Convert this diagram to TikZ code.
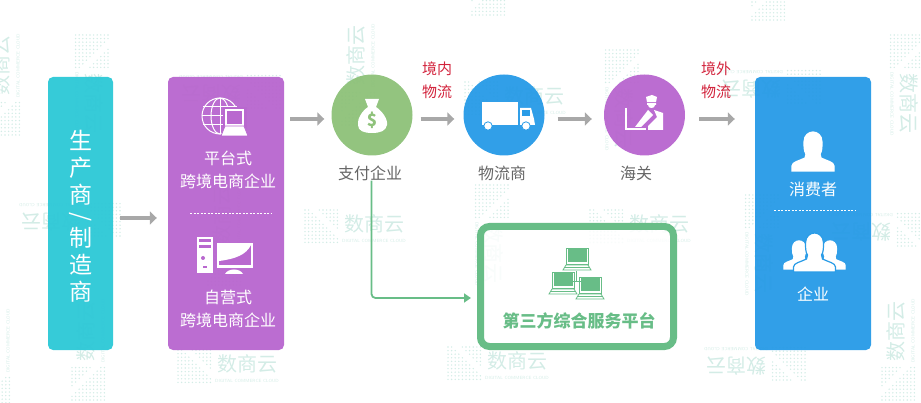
\documentclass[tikz,border=0pt]{standalone}
\usepackage{fontspec}
\setmainfont{Noto Sans CJK SC}
\usetikzlibrary{arrows.meta}
\definecolor{tealbox}{HTML}{30C9D7}
\definecolor{purplebox}{HTML}{B968CF}
\definecolor{bluebox}{HTML}{2A9CE7}
\definecolor{greenpay}{HTML}{8FC27B}
\definecolor{greenline}{HTML}{68BD87}
\definecolor{grayarrow}{HTML}{A8A8A8}
\definecolor{redlabel}{HTML}{D2233C}
\definecolor{graylabel}{HTML}{666666}
\definecolor{markcolor}{HTML}{D3ECE6}
\tikzset{
	colbox/.style={rectangle,rounded corners=5,fill opacity=.97,minimum width=#1,minimum height=273,inner sep=0},
	flowcircle/.style={circle,fill opacity=.97,minimum size=81,inner sep=0},
	flowarrow/.style={draw=grayarrow,line width=4.5,-{Triangle[length=7,width=13]}},
	whitelabel/.style={text=white,font=\fontsize{16}{23}\selectfont,align=center,inner sep=0},
	graylab/.style={text=graylabel,font=\fontsize{16}{20}\selectfont,inner sep=0},
	redlab/.style={text=redlabel,font=\fontsize{15}{23}\selectfont,align=center,inner sep=0},
	makerlab/.style={text=white,font=\fontsize{23}{27}\selectfont,align=center,inner sep=0},
	sepline/.style={draw=white,dashed,line width=.5,dash pattern=on 2 off 1.5}
}
% one person, base centre at #1, scaled by #2
\newcommand{\personicon}[3][white]{
	\filldraw[fill=white,draw=#1,line width=1.2,shift={(#2)},scale=#3] (-21,0) -- (-21,-5) .. controls (-21,-9) and (-14,-10) .. (-8,-13) -- (-7,-17) .. controls (-9,-20) and (-9,-24) .. (-9,-29) .. controls (-9,-36) and (-4,-39) .. (0,-39) .. controls (4,-39) and (9,-36) .. (9,-29) .. controls (9,-24) and (9,-20) .. (7,-17) -- (8,-13) .. controls (14,-10) and (21,-9) .. (21,-5) -- (21,0) -- cycle;
}
% small laptop of the platform box, top left corner at #1
\newcommand{\netlaptop}[1]{
	\begin{scope}[shift={(#1)}]
		\draw[greenline,line width=.8] (2,0) rectangle (24,16);
		\fill[greenline] (3.5,1.5) rectangle (22.5,14.5);
		\draw[greenline,line width=.8] (2,17) -- (24,17) -- (27,22) -- (-1,22) -- cycle;
		\draw[greenline,line width=.6] (1,19.5) -- (25,19.5);
	\end{scope}
}
\begin{document}
\begin{tikzpicture}[x=1pt,y=-1pt]
	\useasboundingbox (0,0) rectangle (921,403);
	\clip (0,0) rectangle (921,403);

	% background marks
	\foreach \mx/\my/\mr [count=\mi] in {90/85/-90,90/350/90,355/228/0,640/228/0,498/365/0,228/368/0,230/90/180,226/235/90,360/75/90,515/100/0,490/235/-90,620/100/-90,770/85/180,905/85/-90,880/228/180,900/350/90,755/362/180,760/245/-90,70/218/180,490/-35/90,770/-30/90,5/85/90,-5/360/90}{
		\begin{scope}[shift={(\mx,\my)},rotate=\mr,transform shape]
			\foreach \ix in {0,...,9}
				\foreach \iy in {0,...,9}{
					\pgfmathtruncatemacro{\igap}{\ix-\iy}
					\ifnum\igap=2\else\ifnum\igap=3\else
						\fill[markcolor] (-50+3.6*\ix,-18+3.6*\iy) circle (.8);
					\fi\fi
				}
			\node[text=markcolor,font=\fontsize{20}{20}\selectfont,inner sep=0] (markname\mi) at (19,-4) {数商云};
			\node[text=markcolor,font=\sffamily\fontsize{4.5}{5}\selectfont,inner sep=0] (marksub\mi) at (19,13) {DIGITAL COMMERCE CLOUD};
		\end{scope}
	}

	% columns
	\coordinate (flowline) at (0,119);
	\coordinate (lowline) at (0,218);
	\coordinate (bendline) at (0,298);
	\node[colbox=65,fill=tealbox] (maker) at (80.5,213.5) {};
	\node[colbox=116,fill=purplebox] (seller) at (226,213.5) {};
	\node[colbox=116,fill=bluebox] (buyer) at (813,213.5) {};
	\node[flowcircle,fill=greenpay] (pay) at (372,115) {};
	\node[flowcircle,fill=bluebox] (carrier) at (504,115) {};
	\node[flowcircle,fill=purplebox] (customs) at (644.5,115) {};
	\node[rectangle,draw=greenline,line width=7,fill=white,fill opacity=.85,rounded corners=9,minimum width=193,minimum height=120,inner sep=0] (platform) at (577,286.5) {};

	% texts
	\node[makerlab] (makerup) at (81,168) {生\\产\\商};
	\node[makerlab,rotate=-90] (makerslash) at (81,217) {/};
	\node[makerlab] (makerdown) at (81,265) {制\\造\\商};
	\node[whitelabel] (sellerup) at (228,169.5) {平台式\\跨境电商企业};
	\node[whitelabel] (sellerdown) at (228,308.5) {自营式\\跨境电商企业};
	\node[whitelabel] (buyerup) at (813,189) {消费者};
	\node[whitelabel] (buyerdown) at (813,294) {企业};
	\node[graylab] (paytext) at (370,173) {支付企业};
	\node[graylab] (carriertext) at (502,173) {物流商};
	\node[graylab] (customstext) at (636,173) {海关};
	\node[redlab] (inland) at (437,80.5) {境内\\物流};
	\node[redlab] (abroad) at (716,80.5) {境外\\物流};
	\node[text=greenline,font=\bfseries\fontsize{17}{17}\selectfont,inner sep=0] (platformtext) at (579,321) {第三方综合服务平台};

	% connectors
	\draw[flowarrow,shorten <=7,shorten >=11] (maker.east |- lowline) -- (seller.west |- lowline);
	\draw[flowarrow,shorten <=6,shorten >=7] (seller.east |- flowline) -- (pay.west |- flowline);
	\draw[flowarrow,shorten <=8,shorten >=9] (pay.east |- flowline) -- (carrier.west |- flowline);
	\draw[flowarrow,shorten <=13,shorten >=12] (carrier.east |- flowline) -- (customs.west |- flowline);
	\draw[flowarrow,shorten <=14,shorten >=20] (customs.east |- flowline) -- (buyer.west |- flowline);
	\draw[draw=greenline,line width=1.8,rounded corners=4,-{Triangle[length=7,width=9]},shorten >=6] (paytext.south) ++(1.5,0) |- (platform.west |- bendline);

	% dashed separators
	\draw[sepline] (190,213) -- (272,213);
	\draw[sepline] (774,210) -- (856,210);

	% globe and laptop
	\begin{scope}[draw=white,line width=1]
		\draw (220,116) circle (18);
		\draw (220,116) ellipse (9 and 18);
		\draw (220,98) -- (220,134);
		\draw (203,107) -- (237,107);
		\draw (202,116) -- (238,116);
		\draw (203,125) -- (237,125);
	\end{scope}
	\filldraw[fill=purplebox,draw=purplebox,line width=1.5] (224,108) rectangle (246,128);
	\draw[white,line width=1.2] (226,110) rectangle (243,125);
	\filldraw[fill=white,draw=purplebox,line width=.8] (225,126) -- (244,126) -- (248,136) -- (221,136) -- cycle;

	% desktop computer
	\fill[white] (197,237) rectangle (213,273);
	\fill[purplebox] (199,239) rectangle (211,242);
	\fill[purplebox] (199,245) rectangle (211,248);
	\fill[purplebox] (203,258) circle (2);
	\fill[purplebox] (203,266) rectangle (207,268);
	\fill[white] (217,243) rectangle (253,268);
	\fill[purplebox] (219,245) rectangle (251,265);
	\fill[white] (219,245) -- (251,245) .. controls (246,255) and (235,259) .. (219,261) -- cycle;
	\fill[white] (225,274) .. controls (228,268) and (240,268) .. (243,274) -- cycle;

	% money bag
	\fill[white] (365,99) -- (379,99) -- (376,107) .. controls (382,111) and (388,119) .. (387,125) .. controls (386,131) and (380,133) .. (372,133) .. controls (364,133) and (358,131) .. (358,125) .. controls (357,119) and (362,111) .. (368,107) -- cycle;
	\node[text=greenpay,font=\bfseries\fontsize{17}{17}\selectfont,inner sep=0] (dollar) at (372,120) {\$};

	% truck
	\fill[white] (482,102) rectangle (518,125);
	\fill[white] (520,108) -- (531,108) -- (534,119) -- (535,125) -- (520,125) -- cycle;
	\fill[bluebox] (522,110) rectangle (530,116);
	\filldraw[fill=white,draw=bluebox,line width=.8] (488,126) circle (4.2);
	\filldraw[fill=white,draw=bluebox,line width=.8] (526,126) circle (4.2);

	% customs officer
	\fill[white] (646,97) -- (652,95) -- (657,97) -- (656,102) -- (647,102) -- cycle;
	\fill[white] (647,103) rectangle (656,105) (648,105) .. controls (648,109) and (655,109) .. (655,105) -- cycle;
	\fill[white] (654,110) -- (663,113) -- (663,130) -- (648,130) -- (648,126) -- (657,117) -- cycle;
	\fill[white] (635,127) -- (641,127) -- (653,115) -- (648,110) -- cycle;
	\draw[white,line width=2] (626,108) -- (626,129) -- (646,129);

	% people
	\personicon{813,171}{1}
	\personicon{799,269}{.72}
	\personicon{830,269}{.72}
	\personicon[bluebox]{814.5,272}{1}

	% network of laptops
	\draw[greenline,line width=.8] (576,271) -- (576,281);
	\draw[greenline,line width=.8] (570,281) -- (582,281);
	\netlaptop{564,248}
	\netlaptop{550,272}
	\netlaptop{577,277}
\end{tikzpicture}
\end{document}
